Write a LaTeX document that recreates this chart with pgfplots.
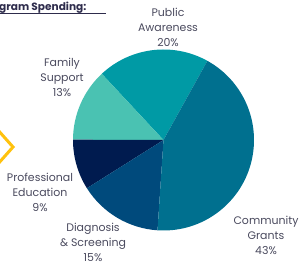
\documentclass[border=0pt]{standalone}
\usepackage{pgfplots}
\pgfplotsset{compat=1.18}
\usepackage{fontspec}
\setmainfont{Poppins}
\definecolor{cPA}{HTML}{009AA5}
\definecolor{cFS}{HTML}{4AC2B2}
\definecolor{cPE}{HTML}{001B4F}
\definecolor{cDS}{HTML}{004A7C}
\definecolor{cCG}{HTML}{00708F}
\definecolor{txt}{HTML}{4A4A5E}
\definecolor{ttl}{HTML}{2E2C4C}
\definecolor{chev}{HTML}{FFC20E}
\begin{document}
\begin{tikzpicture}
\useasboundingbox (0,0) rectangle (299bp,265bp);
\begin{axis}[
  scale only axis, width=299bp, height=265bp,
  xmin=0, xmax=299, ymin=0, ymax=265,
  hide axis, clip=true,
]
\xdef\startang{61}
\foreach \v/\c in {20/cPA,13/cFS,9/cPE,15/cDS,43/cCG}{%
  \pgfmathsetmacro\endang{\startang+\v*3.6}%
  \edef\temp{\noexpand\fill[\c] (axis cs:163.5,125) -- ++(\startang:90.5bp) arc[start angle=\startang, end angle=\endang, radius=90.5bp] -- cycle;}%
  \temp
  \xdef\startang{\endang}%
}
\draw[chev, line width=3bp] (axis cs:-3,136) -- (axis cs:13,118) -- (axis cs:-3,100);
\node[anchor=base west, inner sep=0pt, font=\fontsize{10.6}{12}\selectfont\bfseries, text=ttl] at (axis cs:-1,254) {gram Spending:};
\draw[ttl, line width=1.4bp] (axis cs:0,251.2) -- (axis cs:106,251.2);
\begin{scope}[every node/.style={align=center, text=txt, font=\fontsize{11}{15}\selectfont, inner sep=0pt}]
\node at (axis cs:168,238) {Public\\Awareness\\20\%};
\node at (axis cs:62,188) {Family\\Support\\13\%};
\node at (axis cs:40,73) {Professional\\Education\\9\%};
\node at (axis cs:93,22.5) {Diagnosis\\\& Screening\\15\%};
\node at (axis cs:266,30) {Community\\Grants\\43\%};
\end{scope}
\end{axis}
\end{tikzpicture}
\end{document}
